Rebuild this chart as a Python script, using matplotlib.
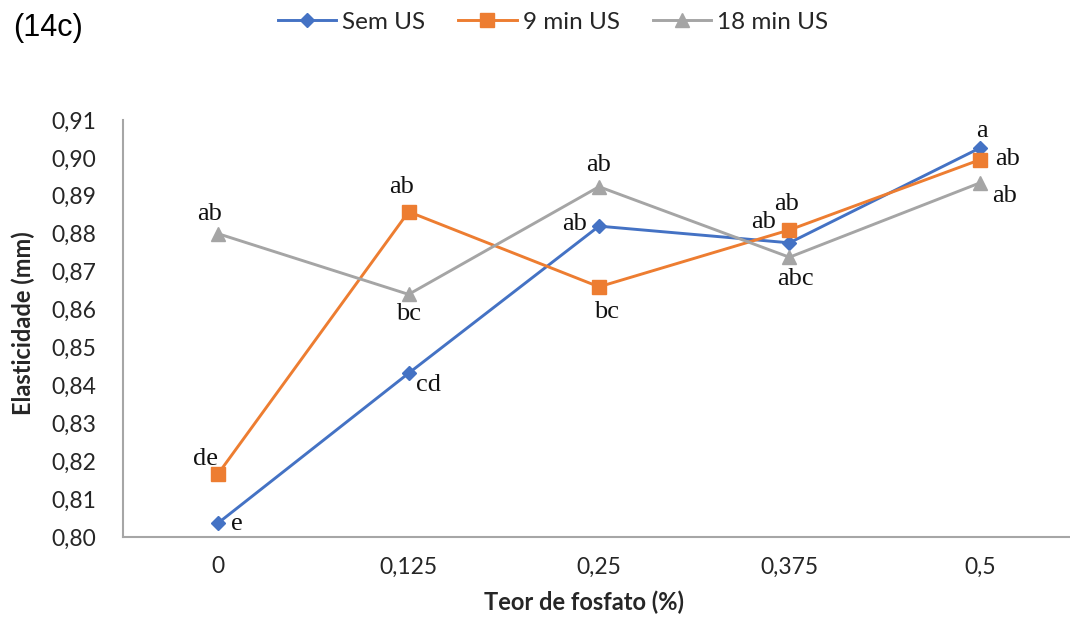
import matplotlib
matplotlib.use("Agg")
import matplotlib.pyplot as plt

categories = ["0", "0,125", "0,25", "0,375", "0,5"]
sem_us = [0.8037, 0.8432, 0.8820, 0.8776, 0.9026]
min9_us = [0.8167, 0.8858, 0.8660, 0.8810, 0.8995]
min18_us = [0.8800, 0.8640, 0.8924, 0.8738, 0.8934]

sem_lbl = ["e", "cd", "ab", "ab", "a"]
min9_lbl = ["de", "ab", "bc", "ab", "ab"]
min18_lbl = ["ab", "bc", "ab", "abc", "ab"]

yticks = [0.80, 0.81, 0.82, 0.83, 0.84, 0.85, 0.86, 0.87, 0.88, 0.89, 0.90, 0.91]

W, H = 1070, 617
fig = plt.figure(figsize=(W / 100, H / 100), dpi=100)
left, right, bottom, top = 123, 1075, 537, 120
ax = fig.add_axes([left / W, 1 - bottom / H, (right - left) / W, (bottom - top) / H])

x = list(range(len(categories)))
c_blue, c_orange, c_gray = "#4472C4", "#ED7D31", "#A5A5A5"
l1, = ax.plot(x, sem_us, color=c_blue, lw=2.1, marker="D", ms=7.5, label="Sem US", zorder=3)
l2, = ax.plot(x, min9_us, color=c_orange, lw=2.1, marker="s", ms=10.5, label="9 min US", zorder=3)
l3, = ax.plot(x, min18_us, color=c_gray, lw=2.1, marker="^", ms=10.5, label="18 min US", zorder=3)

ax.set_xlim(-0.5, len(categories) - 0.5)
ax.set_ylim(0.80, 0.91)
ax.set_yticks(yticks)
ax.set_yticklabels([f"{v:.2f}".replace(".", ",") for v in yticks])
ax.set_xticks(x)
ax.set_xticklabels(categories)

tick_color = "#262626"
ax.tick_params(axis="both", length=0, labelsize=16.5, labelcolor=tick_color)
ax.tick_params(axis="y", pad=19.5)
ax.tick_params(axis="x", pad=14)
for lab in ax.get_xticklabels() + ax.get_yticklabels():
    lab.set_fontfamily("Lato")

for s in ["top", "right"]:
    ax.spines[s].set_visible(False)
for s in ["left", "bottom"]:
    ax.spines[s].set_color("#A6A6A6")
    ax.spines[s].set_linewidth(1.5)

fig.text(23 / W, 1 - 323 / H, "Elasticidade (mm)", rotation=90, ha="center", va="center",
         fontsize=17, fontweight="bold", family="Lato", color=tick_color)
fig.text(584 / W, 1 - 602 / H, "Teor de fosfato (%)", ha="center", va="center",
         fontsize=17, fontweight="bold", family="Lato", color=tick_color)

# offsets in pixels (dx, dy) with dy positive upwards
sem_off = [(19, -1), (20, -12), (-24, 2), (-26, 21), (2, 17)]
min9_off = [(-13, 15), (-7, 25), (8, -25), (-3, 26), (28, 1)]
min18_off = [(-9, 20), (0, -20), (0, 22), (6, -22), (25, -13)]

def annotate(vals, lbls, offs):
    for xi, v, t, (dx, dy) in zip(x, vals, lbls, offs):
        ax.annotate(t, (xi, v), xytext=(dx * 0.72, dy * 0.72), textcoords="offset points",
                    ha="center", va="center", fontsize=19, family="Liberation Serif",
                    color="#111111", zorder=4)

annotate(sem_us, sem_lbl, sem_off)
annotate(min9_us, min9_lbl, min9_off)
annotate(min18_us, min18_lbl, min18_off)

leg = fig.legend(handles=[l1, l2, l3], loc="center", bbox_to_anchor=(553 / W, 1 - 22 / H),
                 ncol=3, frameon=False, prop={"family": "Lato", "size": 17.5},
                 handlelength=2.4, handletextpad=0.25, columnspacing=1.35,
                 borderpad=0, borderaxespad=0)
for t in leg.get_texts():
    t.set_color(tick_color)

fig.text(13 / W, 1 - 28 / H, "(14c)", fontsize=22, family="Liberation Sans",
         ha="left", va="center", color="#000000")

fig.savefig("out.png", dpi=100)
